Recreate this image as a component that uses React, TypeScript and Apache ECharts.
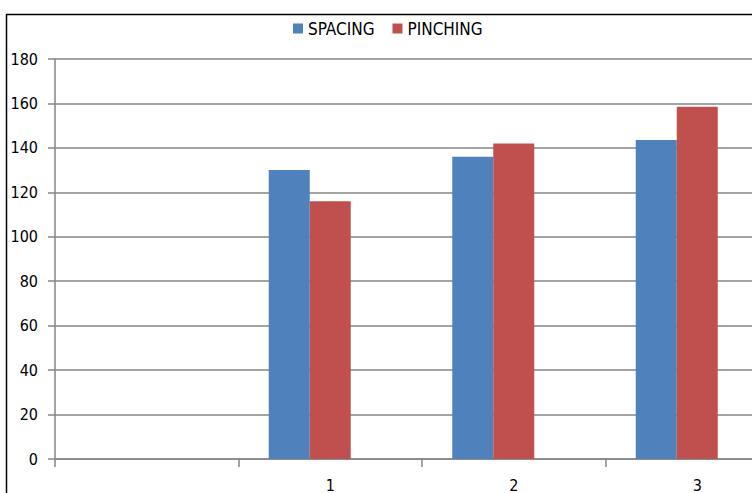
import React, { useEffect, useRef } from "react";
import * as echarts from "echarts";

const categories = ["", "1", "2", "3"];
const spacing = [null, 130, 136, 143.5];
const pinching = [null, 116, 142, 158.5];
const blankSeries = [null, null, null, null];
const yTicks = { min: 0, max: 180, interval: 20 };

const FONT = "'Liberation Sans Narrow', 'DejaVu Sans Condensed', 'Open Sans', sans-serif";

export default function App() {
  const ref = useRef<HTMLDivElement>(null);
  useEffect(() => {
    const chart = echarts.init(ref.current!, null, { renderer: "svg" });
    const gray = "#868686";
    chart.setOption({
      animation: false,
      backgroundColor: "#ffffff",
      graphic: [
        {
          type: "rect",
          shape: { x: 6.5, y: 14.5, width: 850, height: 600 },
          style: { fill: "none", stroke: "#000", lineWidth: 1.5 },
          silent: true,
          z: 100,
        },
      ],
      legend: {
        data: ["SPACING", "PINCHING"],
        top: 15,
        left: 288,
        itemWidth: 10,
        itemHeight: 10,
        itemGap: 18,
        icon: "rect",
        textStyle: { fontFamily: FONT, fontSize: 17, color: "#000" },
      },
      grid: { left: 55, top: 59, bottom: 31, right: 0 },
      xAxis: {
        type: "category",
        data: categories,
        boundaryGap: true,
        axisLine: { lineStyle: { color: gray, width: 1.5 } },
        axisTick: { show: true, length: 8, lineStyle: { color: gray, width: 1.5 } },
        axisLabel: { fontFamily: FONT, fontSize: 16, color: "#000", margin: 18 },
      },
      yAxis: {
        type: "value",
        min: yTicks.min,
        max: yTicks.max,
        interval: yTicks.interval,
        axisLine: { show: true, lineStyle: { color: gray, width: 1.5 } },
        axisTick: { show: true, length: 7, lineStyle: { color: gray, width: 1.5 } },
        splitLine: { show: true, lineStyle: { color: gray, width: 1.5 } },
        axisLabel: { fontFamily: FONT, fontSize: 16, color: "#000", margin: 17 },
      },
      series: [
        {
          name: "SPACING",
          type: "bar",
          data: spacing,
          barWidth: 41,
          barGap: "0%",
          itemStyle: { color: "#4F81BD" },
        },
        {
          name: "PINCHING",
          type: "bar",
          data: pinching,
          barWidth: 41,
          barGap: "0%",
          itemStyle: { color: "#C0504D" },
        },
        {
          name: "blank",
          type: "bar",
          data: blankSeries,
          barWidth: 41,
          barGap: "0%",
          itemStyle: { color: "transparent" },
        },
      ],
    });
    return () => chart.dispose();
  }, []);
  return (
    <div
      style={{ position: "fixed", left: 0, top: 0, width: 752, height: 493, overflow: "hidden", background: "#fff" }}
    >
      <div ref={ref} style={{ width: 789, height: 493 }} />
    </div>
  );
}
